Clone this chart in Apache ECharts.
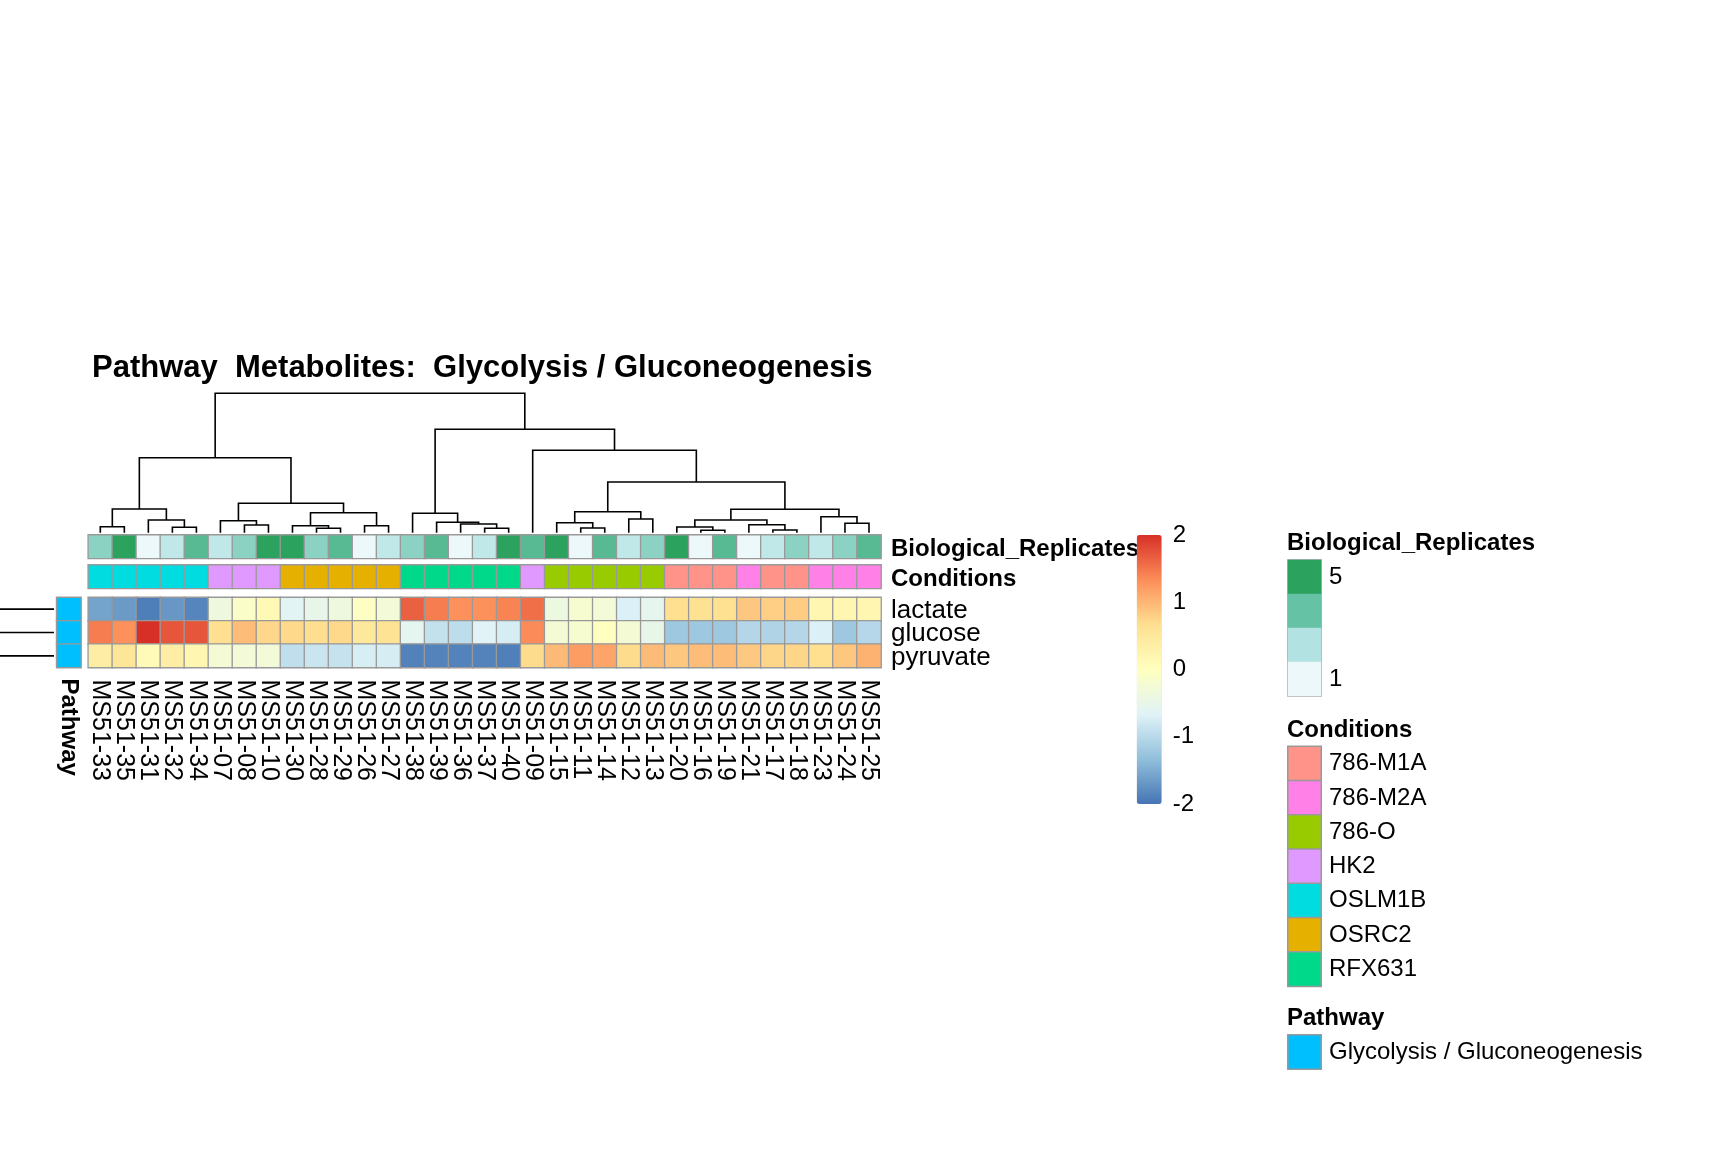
<!DOCTYPE html>
<html>
<head>
<meta charset="utf-8">
<title>Pathway Metabolites: Glycolysis / Gluconeogenesis</title>
<script src="https://cdn.jsdelivr.net/npm/echarts@6/dist/echarts.min.js"></script>
<style>
  html, body { margin: 0; padding: 0; background: #fff; }
  #main { width: 1728px; height: 1152px; }
</style>
</head>
<body>
<div id="main"></div>
<script>
// samples in dendrogram order (left to right)
var samples = ['MS51-33','MS51-35','MS51-31','MS51-32','MS51-34','MS51-07','MS51-08','MS51-10',
  'MS51-30','MS51-28','MS51-29','MS51-26','MS51-27','MS51-38','MS51-39','MS51-36','MS51-37',
  'MS51-40','MS51-09','MS51-15','MS51-11','MS51-14','MS51-12','MS51-13','MS51-20','MS51-16',
  'MS51-19','MS51-21','MS51-17','MS51-18','MS51-23','MS51-24','MS51-25'];
var metabolites = ['lactate', 'glucose', 'pyruvate'];

// scaled abundances (z-score), same order as samples
var lactate = [-1.59,-1.67,-1.91,-1.69,-1.86,-0.37,-0.11,0.13,-0.62,-0.5,-0.37,-0.06,-0.28,
  1.65,1.45,1.3,1.3,1.4,1.55,-0.39,-0.19,-0.28,-0.7,-0.54,0.67,0.63,0.65,0.87,0.8,0.82,0.19,0.19,0.19];
var glucose = [1.45,1.3,2.0,1.73,1.73,0.67,0.95,0.74,0.72,0.68,0.72,0.5,0.6,
  -0.56,-0.91,-0.95,-0.65,-0.75,1.35,-0.24,-0.19,0.0,-0.24,-0.5,-1.22,-1.22,-1.22,-1.04,-1.07,-1.04,-0.7,-1.22,-1.02];
var pyruvate = [0.37,0.54,0.1,0.37,0.19,-0.24,-0.28,-0.28,-0.93,-0.84,-0.88,-0.73,-0.75,
  -1.88,-1.87,-1.87,-1.87,-1.9,0.7,0.98,1.2,1.14,0.7,0.96,0.87,0.95,0.95,0.86,0.75,0.75,0.67,0.87,1.04];

// column annotations
var replicates = [3,5,1,2,4, 2,3,5, 5,3,4,1,2, 3,4,1,2,5, 4, 5,1,4,2,3, 5,1,4,1,2,3,2,3,4];
var conditions = ['OSLM1B','OSLM1B','OSLM1B','OSLM1B','OSLM1B','HK2','HK2','HK2',
  'OSRC2','OSRC2','OSRC2','OSRC2','OSRC2','RFX631','RFX631','RFX631','RFX631','RFX631','HK2',
  '786-O','786-O','786-O','786-O','786-O','786-M1A','786-M1A','786-M1A','786-M2A','786-M1A',
  '786-M1A','786-M2A','786-M2A','786-M2A'];
var conditionNames = ['786-M1A','786-M2A','786-O','HK2','OSLM1B','OSRC2','RFX631'];
var conditionColors = ['#FF9289','#FF80E6','#99CC00','#E099FF','#00DCE0','#E6B000','#00D98A'];
var replicateColors = ['#EDF8FB','#B2E2E2','#66C2A4','#2CA25F'];
var replicateLegendKeys = [5, 3.667, 2.333, 1];
var replicateLegendLabels = ['5', '', '', '1'];
var pathwayName = 'Glycolysis / Gluconeogenesis';
var pathwayColor = '#00BFFF';
var heatColors = ['#4575B4','#91BFDB','#E0F3F8','#FFFFBF','#FEE090','#FC8D59','#D73027'];

// column clustering, hclust style: negative = leaf (1-based), positive = earlier merge
var merges = [
  [-1,-2,6], [-4,-5,5.4], [-3,2,12.7], [1,3,23.7],
  [-7,-8,7.7], [-6,5,12], [-10,-11,4.4], [-9,7,7], [-12,-13,7], [8,9,20], [6,10,29.4],
  [4,11,75],
  [-17,-18,4.4], [-16,13,8.7], [-15,14,10.4], [-14,15,19.4],
  [-21,-22,4.7], [-20,17,10], [-23,-24,13.7], [18,19,21],
  [-26,-27,2.4], [-25,21,5.7], [-29,-30,2.7], [-28,23,8], [22,24,12.7],
  [-32,-33,9.4], [-31,26,16], [25,27,23.4], [20,28,50.7],
  [-19,29,82.5], [16,30,103.4], [12,31,139.4]
];

var FONT = 'Liberation Sans';
var rowsByName = { lactate: lactate, glucose: glucose, pyruvate: pyruvate };

var mainData = [];
metabolites.forEach(function (m, r) {
  rowsByName[m].forEach(function (v, c) { mainData.push([c, r, v]); });
});
var repData = replicates.map(function (v, c) { return [c, 0, v]; });
var condData = conditions.map(function (v, c) { return [c, 0, conditionNames.indexOf(v)]; });
var pathData = metabolites.map(function (m, r) { return [0, r, 0]; });
var repLegendData = replicateLegendKeys.map(function (v, i) { return [0, i, v]; });
var condLegendData = conditionNames.map(function (v, i) { return [0, i, i]; });
var rowTreeData = metabolites.map(function (m, r) { return [0, r, 1]; });

// dendrogram segments from the merge table
var mergePos = [];
var treeData = merges.map(function (m, k) {
  function info(id) { return id < 0 ? [-id - 1, 0] : [mergePos[id - 1], merges[id - 1][2]]; }
  var a = info(m[0]), b = info(m[1]);
  mergePos[k] = (a[0] + b[0]) / 2;
  return [a[0], a[1], b[0], b[1], m[2]];
});

var HM_LEFT = 88.3, HM_WIDTH = 792.7;
var LEG_LEFT = 1288, LEG_W = 33;
var grids = [
  { left: HM_LEFT, width: HM_WIDTH, top: 393.3, height: 139.4 },   // 0 dendrogram
  { left: HM_LEFT, width: HM_WIDTH, top: 535, height: 23.3 },      // 1 replicates
  { left: HM_LEFT, width: HM_WIDTH, top: 565, height: 23.3 },      // 2 conditions
  { left: HM_LEFT, width: HM_WIDTH, top: 597.5, height: 70 },      // 3 heatmap
  { left: 56.7, width: 24.3, top: 597.5, height: 70 },             // 4 pathway column
  { left: 0, width: 54, top: 597.5, height: 70 },                  // 5 row tree
  { left: 1136.7, width: 25, top: 535, height: 269 },              // 6 colour bar axis
  { left: LEG_LEFT, width: LEG_W, top: 560, height: 136, show: true, borderColor: '#999', borderWidth: 1.5, backgroundColor: 'transparent' }, // 7
  { left: LEG_LEFT, width: LEG_W, top: 746.5, height: 239.8 },     // 8 conditions legend
  { left: LEG_LEFT, width: LEG_W, top: 1035, height: 34 }          // 9 pathway legend
];
grids.forEach(function (g) { g.outerBoundsMode = 'none'; g.containLabel = false; });

function hideBits(ax) {
  ax.axisLine = { show: false };
  ax.axisTick = { show: false };
  ax.splitLine = { show: false };
  ax.splitArea = { show: false };
  return ax;
}
function hidden(gridIndex, type, extra) {
  var ax = { gridIndex: gridIndex, type: type, show: false };
  for (var k in extra) ax[k] = extra[k];
  return hideBits(ax);
}
function labelled(gridIndex, data, position, label, extra) {
  var ax = { gridIndex: gridIndex, type: 'category', data: data, position: position,
    axisLabel: label };
  for (var k in extra) ax[k] = extra[k];
  return hideBits(ax);
}
// right-hand labels sit a little lower than the cell centre in the original
function lowered(size, bold, drop) {
  return {
    interval: 0, margin: 10, color: '#000', fontFamily: FONT, fontSize: size,
    formatter: function (v) { return '{t|' + v + '}'; },
    rich: { t: { fontSize: size, fontWeight: bold ? 'bold' : 'normal', color: '#000',
      fontFamily: FONT, padding: [drop, 0, 0, 0] } }
  };
}

var xAxis = [
  hidden(0, 'value', { min: -0.5, max: samples.length - 0.5 }),
  hidden(1, 'category', { data: samples }),
  hidden(2, 'category', { data: samples }),
  labelled(3, samples, 'bottom', { interval: 0, rotate: -90, margin: 12, fontSize: 25, color: '#000', fontFamily: FONT }),
  labelled(4, ['Pathway'], 'bottom', { interval: 0, rotate: -90, margin: 11, fontSize: 24, fontWeight: 'bold', color: '#000', fontFamily: FONT }),
  hidden(5, 'value', { min: 0, max: 1 }),
  hidden(6, 'value', { min: 0, max: 1 }),
  hidden(7, 'category', { data: ['k'] }),
  hidden(8, 'category', { data: ['k'] }),
  hidden(9, 'category', { data: ['k'] })
];
var yAxis = [
  hidden(0, 'value', { min: 0, max: 139.4 }),
  labelled(1, ['Biological_Replicates'], 'right', lowered(24, true, 6)),
  labelled(2, ['Conditions'], 'right', lowered(24, true, 5)),
  labelled(3, metabolites, 'right', lowered(26, false, 3), { inverse: true }),
  hidden(4, 'category', { data: metabolites, inverse: true }),
  hidden(5, 'category', { data: metabolites, inverse: true }),
  hideBits({ gridIndex: 6, type: 'value', min: -2, max: 2, interval: 1, position: 'right',
    axisLabel: { margin: 11, fontSize: 24, color: '#000', fontFamily: FONT } }),
  labelled(7, replicateLegendKeys.map(String), 'right', { interval: 0, margin: 8, fontSize: 24, color: '#000', fontFamily: FONT,
    formatter: function (v, i) { return replicateLegendLabels[i]; } }, { inverse: true }),
  labelled(8, conditionNames, 'right', { interval: 0, margin: 8, fontSize: 24, color: '#000', fontFamily: FONT }, { inverse: true }),
  labelled(9, [pathwayName], 'right', { margin: 8, fontSize: 24, color: '#000', fontFamily: FONT })
];

function cells(name, gridIndex, data, border) {
  return {
    name: name, type: 'heatmap', xAxisIndex: gridIndex, yAxisIndex: gridIndex, data: data,
    itemStyle: { borderColor: '#999999', borderWidth: border },
    emphasis: { disabled: true }, silent: true
  };
}

function legendTitle(text, top) {
  return { text: text, left: LEG_LEFT - 1, top: top, padding: 0,
    textStyle: { fontSize: 24, fontWeight: 'bold', color: '#000', fontFamily: FONT, lineHeight: 24 } };
}

var option = {
  animation: false,
  backgroundColor: '#ffffff',
  textStyle: { fontFamily: FONT },
  title: [
    { text: 'Pathway  Metabolites:  Glycolysis / Gluconeogenesis', left: 92, top: 353, padding: 0,
      textStyle: { fontSize: 31, fontWeight: 'bold', color: '#000', fontFamily: FONT, lineHeight: 31 } },
    legendTitle('Biological_Replicates', 531),
    legendTitle('Conditions', 718.5),
    legendTitle('Pathway', 1006)
  ],
  grid: grids,
  xAxis: xAxis,
  yAxis: yAxis,
  visualMap: [
    { type: 'continuous', seriesIndex: 3, min: -2, max: 2, calculable: false, realtime: false,
      left: 1136.7, top: 535, itemWidth: 25, itemHeight: 269, padding: 0, text: null,
      showLabel: false, inRange: { color: heatColors }, hoverLink: false },
    { type: 'continuous', seriesIndex: [1, 6], min: 1, max: 5, show: false,
      inRange: { color: replicateColors } },
    { type: 'piecewise', seriesIndex: [2, 7], show: false,
      pieces: conditionNames.map(function (n, i) { return { value: i, color: conditionColors[i] }; }) },
    { type: 'piecewise', seriesIndex: [4, 8], show: false,
      pieces: [{ value: 0, color: pathwayColor }] }
  ],
  series: [
    {
      name: 'column tree', type: 'custom', xAxisIndex: 0, yAxisIndex: 0, silent: true,
      data: treeData, encode: { x: [0, 2], y: [1, 3, 4] },
      renderItem: function (params, api) {
        var a = api.coord([api.value(0), api.value(1)]);
        var at = api.coord([api.value(0), api.value(4)]);
        var bt = api.coord([api.value(2), api.value(4)]);
        var b = api.coord([api.value(2), api.value(3)]);
        return { type: 'polyline', shape: { points: [a, at, bt, b] },
          style: { stroke: '#000', lineWidth: 1.6, fill: null } };
      }
    },
    cells('Biological_Replicates', 1, repData, 1.3),
    cells('Conditions', 2, condData, 1.3),
    cells('abundance', 3, mainData, 1.3),
    cells('Pathway', 4, pathData, 1.3),
    {
      name: 'row tree', type: 'custom', xAxisIndex: 5, yAxisIndex: 5, silent: true,
      data: rowTreeData, encode: { x: [0, 2], y: 1 },
      renderItem: function (params, api) {
        var a = api.coord([api.value(0), api.value(1)]);
        var b = api.coord([api.value(2), api.value(1)]);
        return { type: 'line', shape: { x1: a[0], y1: a[1], x2: b[0], y2: b[1] },
          style: { stroke: '#000', lineWidth: 1.6 } };
      }
    },
    cells('replicates legend', 7, repLegendData, 0),
    cells('conditions legend', 8, condLegendData, 1.5),
    cells('pathway legend', 9, [[0, 0, 0]], 1.5)
  ]
};

var chart = echarts.init(document.getElementById('main'));
chart.setOption(option);
</script>
</body>
</html>
